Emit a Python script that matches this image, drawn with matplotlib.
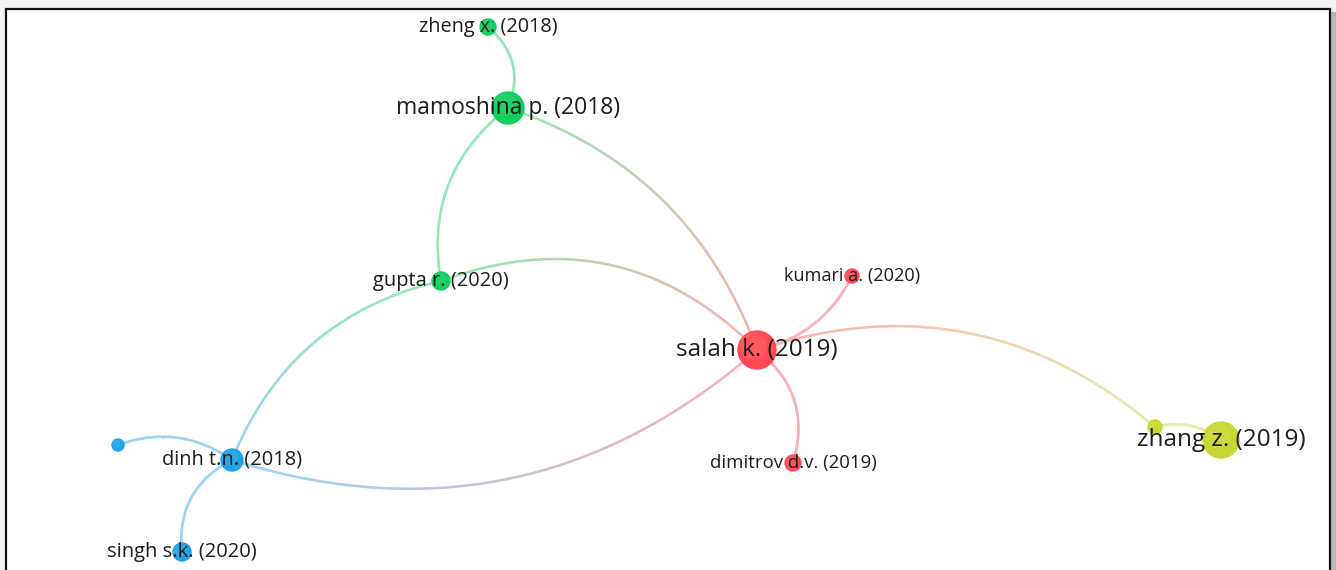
"""
Co-citation network (VOSviewer style) redrawn with matplotlib
"""

import matplotlib

matplotlib.use('Agg')

import matplotlib.pyplot as plt
import numpy as np
from matplotlib.collections import LineCollection
from matplotlib.colors import to_rgb
from matplotlib.patches import Circle, Rectangle

# Node data (layout coordinates in pixels)
node_labels = ['zheng x. (2018)', 'mamoshina p. (2018)', 'gupta r. (2020)',
               'salah k. (2019)', 'kumari a. (2020)', 'dimitrov d.v. (2019)',
               '', 'zhang z. (2019)', 'dinh t.n. (2018)', '', 'singh s.k. (2020)']
node_x = [488, 508, 441, 757, 852, 793, 1155, 1221, 232, 118, 182]
node_y = [27, 108, 281, 350, 276, 463, 427, 440, 460, 445, 552]
node_weight = [8, 16, 9, 19, 7, 8, 7, 18, 11, 6, 9]
node_cluster = ['green', 'green', 'green', 'red', 'red', 'red',
                'yellow', 'yellow', 'blue', 'blue', 'blue']
label_size = [14.3, 16.5, 14.4, 17.5, 13.1, 13.4, 0, 17.5, 14.4, 0, 14.5]

# Links (source, target, bend of the curve)
edge_src = [0, 1, 1, 2, 2, 8, 8, 8, 3, 3, 3, 6]
edge_dst = [1, 2, 3, 3, 8, 3, 9, 10, 4, 5, 6, 7]
edge_bend = [0.18, -0.15, 0.12, 0.16, -0.13, -0.14, -0.13, -0.17, -0.12, 0.17, 0.14, 0.12]

CLUSTER_COLORS = {
    'red': '#ff4a55',
    'green': '#12cf5e',
    'yellow': '#c8d832',
    'blue': '#1ea3e6',
}


def lighten(rgb, amount):
    rgb = np.asarray(rgb)
    return rgb + (1 - rgb) * amount


def bezier(p0, p2, bend, n=80):
    p0 = np.asarray(p0, float)
    p2 = np.asarray(p2, float)
    d = p2 - p0
    length = np.hypot(*d)
    perp = np.array([d[1], -d[0]]) / length
    p1 = (p0 + p2) / 2 + 2 * bend * length * perp
    t = np.linspace(0, 1, n)[:, None]
    return (1 - t) ** 2 * p0 + 2 * (1 - t) * t * p1 + t ** 2 * p2


fig = plt.figure(figsize=(13.36, 5.70), dpi=100)
fig.patch.set_facecolor('#f4f4f4')
ax = fig.add_axes([0, 0, 1, 1])
ax.set_xlim(0, 1336)
ax.set_ylim(570, 0)
ax.axis('off')

# white map area with a thin black frame and a soft shadow on the right
ax.add_patch(Rectangle((1331, 12), 5, 570, color='#b8b8b8', zorder=0))
ax.add_patch(Rectangle((6, 9), 1324, 570, facecolor='white',
                       edgecolor='#111111', linewidth=1.6, zorder=0.5))

# curved, colour-graded links
for s, d, b in zip(edge_src, edge_dst, edge_bend):
    pts = bezier((node_x[s], node_y[s]), (node_x[d], node_y[d]), b)
    segs = np.stack([pts[:-1], pts[1:]], axis=1)
    c0 = np.array(to_rgb(CLUSTER_COLORS[node_cluster[s]]))
    c1 = np.array(to_rgb(CLUSTER_COLORS[node_cluster[d]]))
    t = np.linspace(0, 1, len(segs))[:, None]
    cols = lighten(c0 * (1 - t) + c1 * t, 0.55)
    ax.add_collection(LineCollection(segs, colors=cols, linewidths=1.8,
                                     capstyle='round', zorder=1))

# nodes
for x, y, w, c in zip(node_x, node_y, node_weight, node_cluster):
    base = np.array(to_rgb(CLUSTER_COLORS[c]))
    ax.add_patch(Circle((x, y), w, color=base, zorder=2))
    ax.add_patch(Circle((x - w * 0.18, y - w * 0.2), w * 0.7,
                        color=lighten(base, 0.12), alpha=0.6, zorder=2.1, linewidth=0))

# labels centred on their nodes
for x, y, lab, fs in zip(node_x, node_y, node_labels, label_size):
    if lab:
        ax.text(x, y, lab, ha='center', va='center', fontsize=fs,
                family=['Open Sans', 'DejaVu Sans'], color='#1c1c1c', zorder=3)

plt.savefig('out.png', dpi=100, facecolor=fig.get_facecolor())
plt.close()
